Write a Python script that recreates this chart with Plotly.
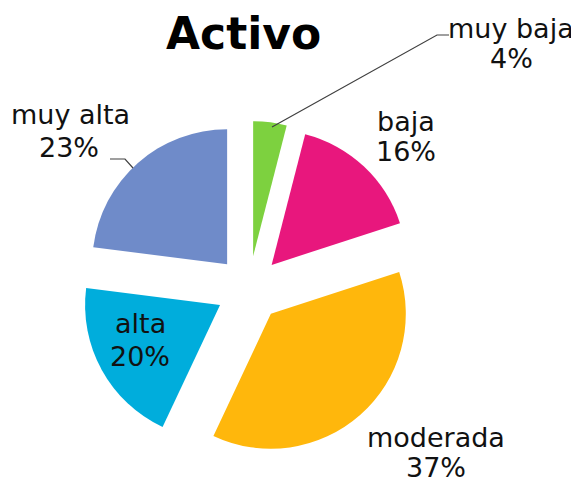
import plotly.graph_objects as go

# the page body has an 8px default margin; the figure is sized to fit the window
OFF = 8
W, H = 579 - OFF, 485 - OFF

categories = ["muy baja", "baja", "moderada", "alta", "muy alta"]
values = [4, 16, 37, 20, 23]
colors = ["#7DD13F", "#E8177D", "#FFB70C", "#00ADDC", "#6F8BC9"]
title_text = "Activo"

total = sum(values)
pcts = [f"{round(v * 100 / total)}%" for v in values]


def px(x, y):
    return (x - OFF) / W, 1 - (y - OFF) / H


dx0, dy1 = px(81, 121)
dx1, dy0 = px(417, 457)

fig = go.Figure(go.Pie(
    labels=categories,
    values=values,
    sort=False,
    direction="clockwise",
    rotation=0,
    pull=[0.245] * len(values),
    marker=dict(colors=colors, line=dict(width=0)),
    textinfo="none",
    hoverinfo="label+percent",
    domain=dict(x=[dx0, dx1], y=[dy0, dy1]),
    showlegend=False,
))

label_pos = {
    "muy baja": (511, 29, 511, 59),
    "baja": (406, 122, 406, 152),
    "moderada": (436, 437, 436, 467),
    "alta": (140, 323, 140, 356),
    "muy alta": (70, 114, 69, 147),
}

font = dict(family="DejaVu Sans", size=27, color="#111111")
annotations = []
for cat, pct in zip(categories, pcts):
    x1, y1, x2, y2 = label_pos[cat]
    for txt, (xx, yy) in ((cat, (x1, y1)), (pct, (x2, y2))):
        ax, ay = px(xx, yy)
        annotations.append(dict(text=txt, x=ax, y=ay, xref="paper", yref="paper",
                                xanchor="center", yanchor="middle",
                                showarrow=False, font=font))

tx, ty = px(243, 34)
annotations.append(dict(text=f"<b>{title_text}</b>", x=tx, y=ty, xref="paper", yref="paper",
                        xanchor="center", yanchor="middle", showarrow=False,
                        font=dict(family="DejaVu Sans", size=44, color="#000000")))


def path(points):
    pts = [px(*p) for p in points]
    return "M " + " L ".join(f"{a},{b}" for a, b in pts)


shapes = [
    dict(type="path", xref="paper", yref="paper",
         path=path([(272, 127), (437, 35), (449, 35)]),
         line=dict(color="#404040", width=1.2)),
    dict(type="path", xref="paper", yref="paper",
         path=path([(110, 159), (125, 159), (133, 168)]),
         line=dict(color="#404040", width=1.2)),
]

fig.update_layout(
    width=W, height=H,
    margin=dict(l=0, r=0, t=0, b=0),
    paper_bgcolor="white",
    plot_bgcolor="white",
    annotations=annotations,
    shapes=shapes,
)

fig.write_html("out.html")
